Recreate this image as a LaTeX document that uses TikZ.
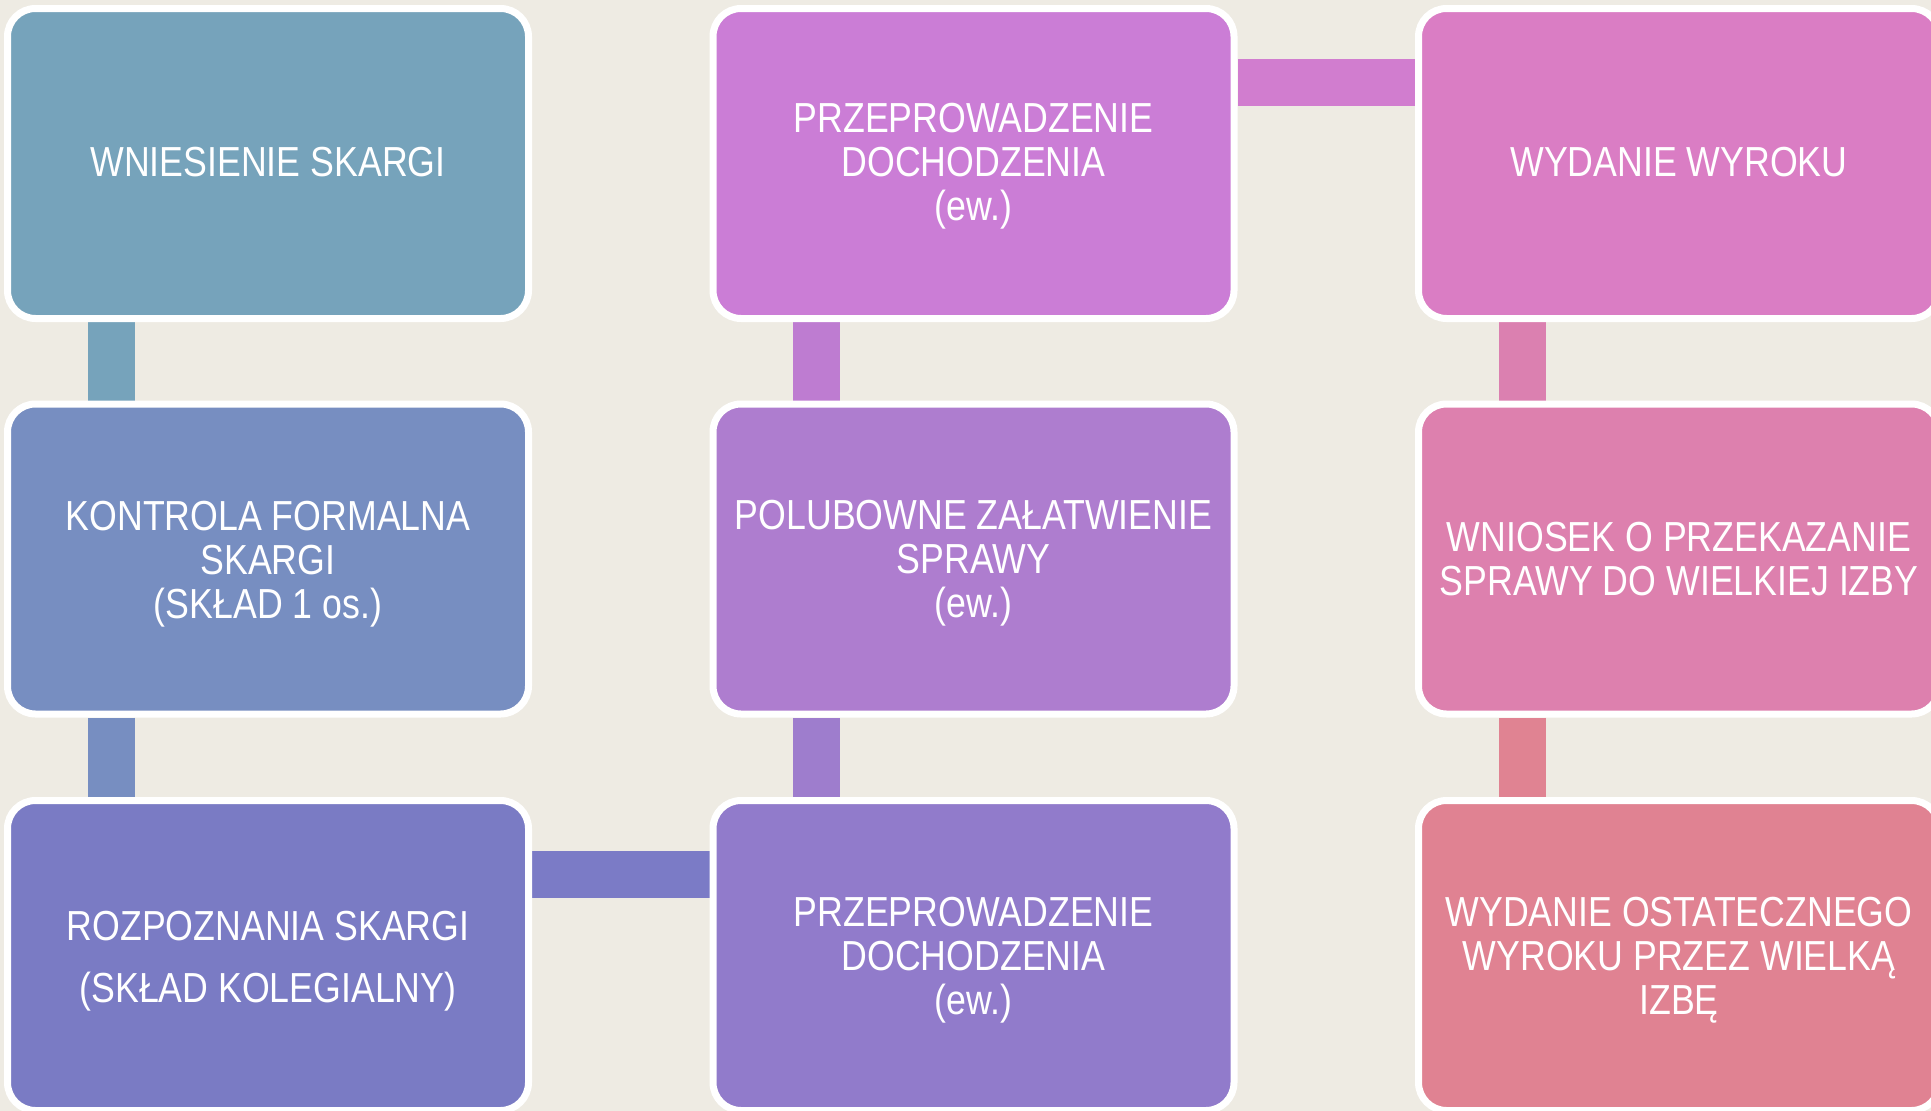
\documentclass[tikz,border=0pt]{standalone}
\usepackage{fontspec}
\setmainfont{Liberation Sans}[FakeStretch=0.85]
\usetikzlibrary{backgrounds}
\definecolor{bg}{HTML}{EEEBE3}
\definecolor{cA}{HTML}{76A3BB}
\definecolor{cB}{HTML}{778EC1}
\definecolor{cC}{HTML}{7A7BC4}
\definecolor{cD}{HTML}{CB7DD6}
\definecolor{cE}{HTML}{AE7DCF}
\definecolor{cF}{HTML}{917BCB}
\definecolor{cG}{HTML}{DA7DC4}
\definecolor{cH}{HTML}{DD80AE}
\definecolor{cI}{HTML}{E08292}
\definecolor{kA}{HTML}{76A3BB}
\definecolor{kB}{HTML}{778EC1}
\definecolor{kC}{HTML}{7B7BC6}
\definecolor{kD}{HTML}{BE7CD1}
\definecolor{kE}{HTML}{9E7DCD}
\definecolor{kF}{HTML}{D17DCF}
\definecolor{kG}{HTML}{DB80B0}
\definecolor{kH}{HTML}{E08392}
\tikzset{
  box/.style={draw=white, line width=7pt, rounded corners=28pt,
    minimum width=521pt, minimum height=310pt, inner sep=0pt},
  txt/.style={text=white, align=center, inner sep=0pt,
    font=\fontsize{42}{44}\selectfont},
  conn/.style={line width=47pt, line cap=butt}
}
\begin{document}
\begin{tikzpicture}[x=1pt,y=-1pt]
\useasboundingbox (0,0) rectangle (1931,1111);
\clip (0,0) rectangle (1931,1111);
\begin{scope}[on background layer]
\fill[bg] (0,0) rectangle (1931,1111);
\end{scope}
% boxes
\node[box, fill=cA] (a) at (268,163.5) {};
\node[box, fill=cB] (b) at (268,559) {};
\node[box, fill=cC] (c) at (268,955.5) {};
\node[box, fill=cF] (d) at (973.5,955.5) {};
\node[box, fill=cE] (e) at (973.5,559) {};
\node[box, fill=cD] (f) at (973.5,163.5) {};
\node[box, fill=cG] (g) at (1679,163.5) {};
\node[box, fill=cH] (h) at (1679,559) {};
\node[box, fill=cI] (i) at (1679,955.5) {};
% texts
\node[txt] (ta) at ([yshift=1pt]a.center) {WNIESIENIE SKARGI};
\node[txt] (tb) at ([yshift=-5pt]b.center) {KONTROLA FORMALNA\\SKARGI\\(SKŁAD 1 os.)};
\node[txt] (tc) at ([yshift=-6pt]c.center) {ROZPOZNANIA SKARGI\\[18pt](SKŁAD KOLEGIALNY)};
\node[txt] (td) at ([yshift=-5pt]d.center) {PRZEPROWADZENIE\\DOCHODZENIA\\(ew.)};
\node[txt] (te) at ([yshift=-4pt]e.center) {POLUBOWNE ZAŁATWIENIE\\SPRAWY\\(ew.)};
\node[txt] (tf) at ([yshift=-3pt]f.center) {PRZEPROWADZENIE\\DOCHODZENIA\\(ew.)};
\node[txt] (tg) at ([yshift=1pt]g.center) {WYDANIE WYROKU};
\node[txt] (th) at ([yshift=0pt]h.center) {WNIOSEK O PRZEKAZANIE\\SPRAWY DO WIELKIEJ IZBY};
\node[txt] (ti) at ([yshift=-5pt]i.center) {WYDANIE OSTATECZNEGO\\WYROKU PRZEZ WIELKĄ\\IZBĘ};
% connectors
\begin{scope}[on background layer]
\draw[conn, kA] ([xshift=107pt]a.south west) -- ([xshift=107pt]b.north west);
\draw[conn, kB] ([xshift=107pt]b.south west) -- ([xshift=107pt]c.north west);
\draw[conn, kC] ([yshift=-77pt]c.north east) -- ([yshift=-77pt]d.north west);
\draw[conn, kE] ([xshift=107pt]d.north west) -- ([xshift=107pt]e.south west);
\draw[conn, kD] ([xshift=107pt]e.north west) -- ([xshift=107pt]f.south west);
\draw[conn, kF] ([yshift=-77pt]f.north east) -- ([yshift=-77pt]g.north west);
\draw[conn, kG] ([xshift=107pt]g.south west) -- ([xshift=107pt]h.north west);
\draw[conn, kH] ([xshift=107pt]h.south west) -- ([xshift=107pt]i.north west);
\end{scope}
\end{tikzpicture}
\end{document}
